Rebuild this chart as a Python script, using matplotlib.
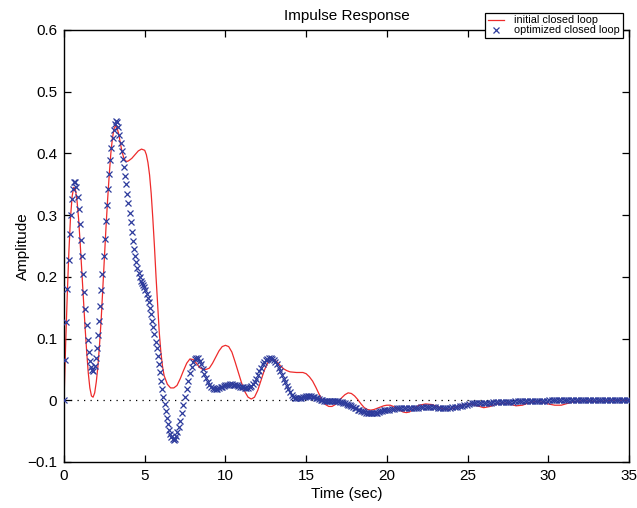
import numpy as np
import matplotlib
matplotlib.use("Agg")
import matplotlib.pyplot as plt

plt.rcParams['font.family'] = ['Liberation Sans', 'DejaVu Sans']

# initial closed loop (red line)
red_t = [0, 0.1, 0.2, 0.3, 0.4, 0.5, 0.6, 0.7, 0.8, 0.9,
         1.0, 1.1, 1.2, 1.3, 1.4, 1.5, 1.6, 1.7, 1.8, 1.9,
         2.0, 2.1, 2.2, 2.3, 2.4, 2.5, 2.6, 2.7, 2.8, 2.9,
         3.0, 3.1, 3.2, 3.3, 3.4, 3.5, 3.6, 3.7, 3.8, 3.9,
         4.0, 4.2, 4.4, 4.6, 4.8, 5.0, 5.1, 5.2, 5.3, 5.4,
         5.5, 5.6, 5.7, 5.8, 5.9, 6.0, 6.1, 6.2, 6.4, 6.6,
         6.8, 7.0, 7.2, 7.4, 7.6, 7.8, 8.0, 8.2, 8.4, 8.6,
         8.8, 9.0, 9.2, 9.4, 9.6, 9.8, 10.0, 10.2, 10.4, 10.6,
         10.8, 11.0, 11.2, 11.4, 11.6, 11.8, 12.0, 12.2, 12.4, 12.6,
         12.8, 13.0, 13.2, 13.4, 13.6, 13.8, 14.0, 14.4, 14.8, 15.0,
         15.2, 15.4, 15.6, 15.8, 16.0, 16.2, 16.4, 16.6, 16.8, 17.0,
         17.2, 17.4, 17.6, 17.8, 18.0, 18.2, 18.4, 18.6, 18.8, 19.0,
         19.2, 19.4, 19.6, 19.8, 20.0, 20.2, 20.4, 20.6, 20.8, 21.0,
         21.2, 21.4, 21.6, 21.8, 22.0, 22.4, 22.8, 23.2, 23.6, 24.0,
         24.4, 24.8, 25.2, 25.6, 26.0, 26.4, 26.8, 27.2, 27.6, 28.0,
         28.4, 28.8, 29.2, 29.6, 30.0, 30.4, 30.8, 31.2, 31.6, 32.0,
         32.4, 32.8, 33.2, 33.6, 34.0, 34.5, 35.0]
red_y = [0, 0.09, 0.17, 0.24, 0.295, 0.33, 0.345, 0.342, 0.325, 0.295,
         0.255, 0.21, 0.165, 0.12, 0.08, 0.045, 0.02, 0.007, 0.005, 0.012,
         0.03, 0.055, 0.09, 0.13, 0.18, 0.23, 0.28, 0.325, 0.365, 0.40,
         0.425, 0.44, 0.445, 0.44, 0.43, 0.415, 0.402, 0.393, 0.388, 0.387,
         0.388, 0.392, 0.398, 0.404, 0.407, 0.405, 0.398, 0.385, 0.365, 0.335,
         0.295, 0.25, 0.20, 0.155, 0.11, 0.078, 0.055, 0.04, 0.026, 0.02,
         0.02, 0.024, 0.035, 0.048, 0.06, 0.067, 0.066, 0.06, 0.053, 0.05,
         0.05, 0.052, 0.06, 0.07, 0.08, 0.087, 0.089, 0.087, 0.078, 0.062,
         0.045, 0.028, 0.014, 0.005, 0.002, 0.005, 0.016, 0.032, 0.048, 0.06,
         0.066, 0.066, 0.062, 0.056, 0.051, 0.048, 0.046, 0.045, 0.045, 0.043,
         0.038, 0.031, 0.021, 0.01, 0.0, -0.007, -0.01, -0.01, -0.007, -0.002,
         0.004, 0.009, 0.012, 0.011, 0.007, 0.001, -0.006, -0.012, -0.015, -0.016,
         -0.015, -0.013, -0.011, -0.009, -0.008, -0.008, -0.01, -0.013, -0.016, -0.019,
         -0.02, -0.019, -0.015, -0.011, -0.008, -0.006, -0.007, -0.011, -0.015, -0.014,
         -0.01, -0.007, -0.006, -0.009, -0.012, -0.01, -0.006, -0.004, -0.006, -0.009,
         -0.008, -0.004, -0.002, -0.003, -0.006, -0.008, -0.008, -0.005, -0.002, -0.001,
         -0.001, -0.002, -0.002, -0.001, 0.0, 0.0, 0.0]

# optimized closed loop (blue x markers), sampled every 0.07 s up to 7 s
opt_a = [0, 0.066, 0.127, 0.180, 0.227, 0.269, 0.300, 0.326, 0.343, 0.353,
         0.354, 0.345, 0.330, 0.310, 0.286, 0.260, 0.233, 0.205, 0.176, 0.148,
         0.122, 0.098, 0.079, 0.064, 0.054, 0.049, 0.048, 0.055, 0.068, 0.085,
         0.105, 0.128, 0.152, 0.178, 0.205, 0.233, 0.262, 0.290, 0.317, 0.343,
         0.367, 0.389, 0.408, 0.425, 0.438, 0.447, 0.452, 0.451, 0.442, 0.430,
         0.417, 0.404, 0.391, 0.378, 0.364, 0.350, 0.335, 0.320, 0.304, 0.289,
         0.272, 0.258, 0.245, 0.234, 0.224, 0.215, 0.207, 0.200, 0.194, 0.190,
         0.186, 0.183, 0.178, 0.172, 0.166, 0.159, 0.150, 0.140, 0.129, 0.118,
         0.107, 0.095, 0.084, 0.072, 0.059, 0.046, 0.032, 0.019, 0.006, -0.006,
         -0.018, -0.029, -0.039, -0.048, -0.055, -0.060, -0.063, -0.064, -0.062, -0.058,
         -0.052]
# 7.1 s to 20 s, every 0.1 s
opt_b = [-0.044, -0.033, -0.021, -0.007, 0.006, 0.019, 0.032, 0.044, 0.054, 0.062,
         0.067, 0.069, 0.068, 0.064, 0.058, 0.051, 0.043, 0.036, 0.030, 0.025,
         0.022, 0.020, 0.019, 0.019, 0.019, 0.020, 0.021, 0.022, 0.023, 0.024,
         0.025, 0.025, 0.026, 0.026, 0.025, 0.025, 0.024, 0.023, 0.022, 0.021,
         0.021, 0.020, 0.020, 0.020, 0.021, 0.023, 0.026, 0.030, 0.035, 0.041,
         0.047, 0.053, 0.058, 0.062, 0.065, 0.067, 0.068, 0.068, 0.067, 0.065,
         0.062, 0.058, 0.053, 0.047, 0.041, 0.035, 0.029, 0.023, 0.018, 0.013,
         0.009, 0.006, 0.004, 0.003, 0.003, 0.003, 0.004, 0.005, 0.006, 0.007,
         0.007, 0.007, 0.007, 0.006, 0.005, 0.004, 0.003, 0.002, 0.001, 0.000,
         -0.001, -0.001, -0.001, -0.001, -0.001, -0.001, -0.001, -0.002, -0.002, -0.002,
         -0.003, -0.003, -0.004, -0.005, -0.006, -0.007, -0.008, -0.009, -0.011, -0.012,
         -0.013, -0.015, -0.016, -0.017, -0.018, -0.019, -0.020, -0.020, -0.021, -0.021,
         -0.021, -0.021, -0.020, -0.020, -0.019, -0.018, -0.017, -0.016, -0.016, -0.015]
# 20.15 s to 35 s, every 0.15 s
opt_c = [-0.015, -0.014, -0.014, -0.013, -0.013, -0.012, -0.012, -0.012, -0.012, -0.012,
         -0.012, -0.012, -0.012, -0.011, -0.011, -0.011, -0.011, -0.011, -0.011, -0.011,
         -0.012, -0.012, -0.012, -0.012, -0.012, -0.012, -0.011, -0.011, -0.011, -0.010,
         -0.009, -0.008, -0.007, -0.006, -0.005, -0.004, -0.004, -0.004, -0.004, -0.004,
         -0.004, -0.004, -0.004, -0.003, -0.003, -0.003, -0.003, -0.003, -0.003, -0.003,
         -0.003, -0.003, -0.002, -0.002, -0.002, -0.002, -0.002, -0.002, -0.002, -0.001,
         -0.001, -0.001, -0.001, -0.001, -0.001, -0.001, 0.000, 0.000, 0.000, 0.000,
         0.000, 0.000, 0.000, 0.000, 0.000, 0.000, 0.000, 0.000, 0.000, 0.000,
         0.000, 0.000, 0.000, 0.000, 0.001, 0.001, 0.001, 0.001, 0.001, 0.001,
         0.001, 0.001, 0.001, 0.001, 0.001, 0.001, 0.001, 0.001, 0.001, 0.001]

x_ticks = [0, 5, 10, 15, 20, 25, 30, 35]
y_ticks = [-0.1, 0, 0.1, 0.2, 0.3, 0.4, 0.5, 0.6]

# sample times of the optimized response
t_a = 0.07 * np.arange(len(opt_a))
t_b = 7.0 + 0.1 * np.arange(1, len(opt_b) + 1)
t_c = 20.0 + 0.15 * np.arange(1, len(opt_c) + 1)
opt_t = np.concatenate([t_a, t_b, t_c])
opt_y = np.concatenate([opt_a, opt_b, opt_c])

fig = plt.figure(figsize=(6.37, 5.08), dpi=100)
ax = fig.add_axes([0.1005, 0.0906, 0.887, 0.8504])

ax.plot(x_ticks[::len(x_ticks) - 1], [0, 0], color='black', lw=0.9,
        linestyle=(0, (1, 4.2)), zorder=1)
ax.plot(red_t, red_y, color='#ee2b2b', lw=0.9, label='initial closed loop', zorder=2)
ax.plot(opt_t, opt_y, linestyle='none', marker='x', color='#2d3b9c',
        markersize=4.8, markeredgewidth=0.9, label='optimized closed loop', zorder=3)

ax.set_xlim(0, 35)
ax.set_ylim(-0.1, 0.6)
ax.set_xticks(x_ticks)
ax.set_yticks(y_ticks)
ax.set_yticklabels(['\u22120.1', '0', '0.1', '0.2', '0.3', '0.4', '0.5', '0.6'])
ax.tick_params(direction='in', length=5, width=0.9, labelsize=11,
               top=True, right=True, pad=5)
for s in ax.spines.values():
    s.set_linewidth(1.0)

ax.set_title('Impulse Response', fontsize=11, pad=7)
ax.set_xlabel('Time (sec)', fontsize=11, labelpad=3)
ax.set_ylabel('Amplitude', fontsize=11, labelpad=-2)

leg = ax.legend(loc='upper right', bbox_to_anchor=(0.9885, 1.04), fontsize=7.8,
                frameon=True, fancybox=False, borderpad=0.25, handlelength=1.5,
                handletextpad=0.9, labelspacing=0.0, borderaxespad=0)
leg.get_frame().set_edgecolor('black')
leg.get_frame().set_linewidth(0.9)
leg.get_frame().set_alpha(1)

fig.savefig('out.png', dpi=100)
